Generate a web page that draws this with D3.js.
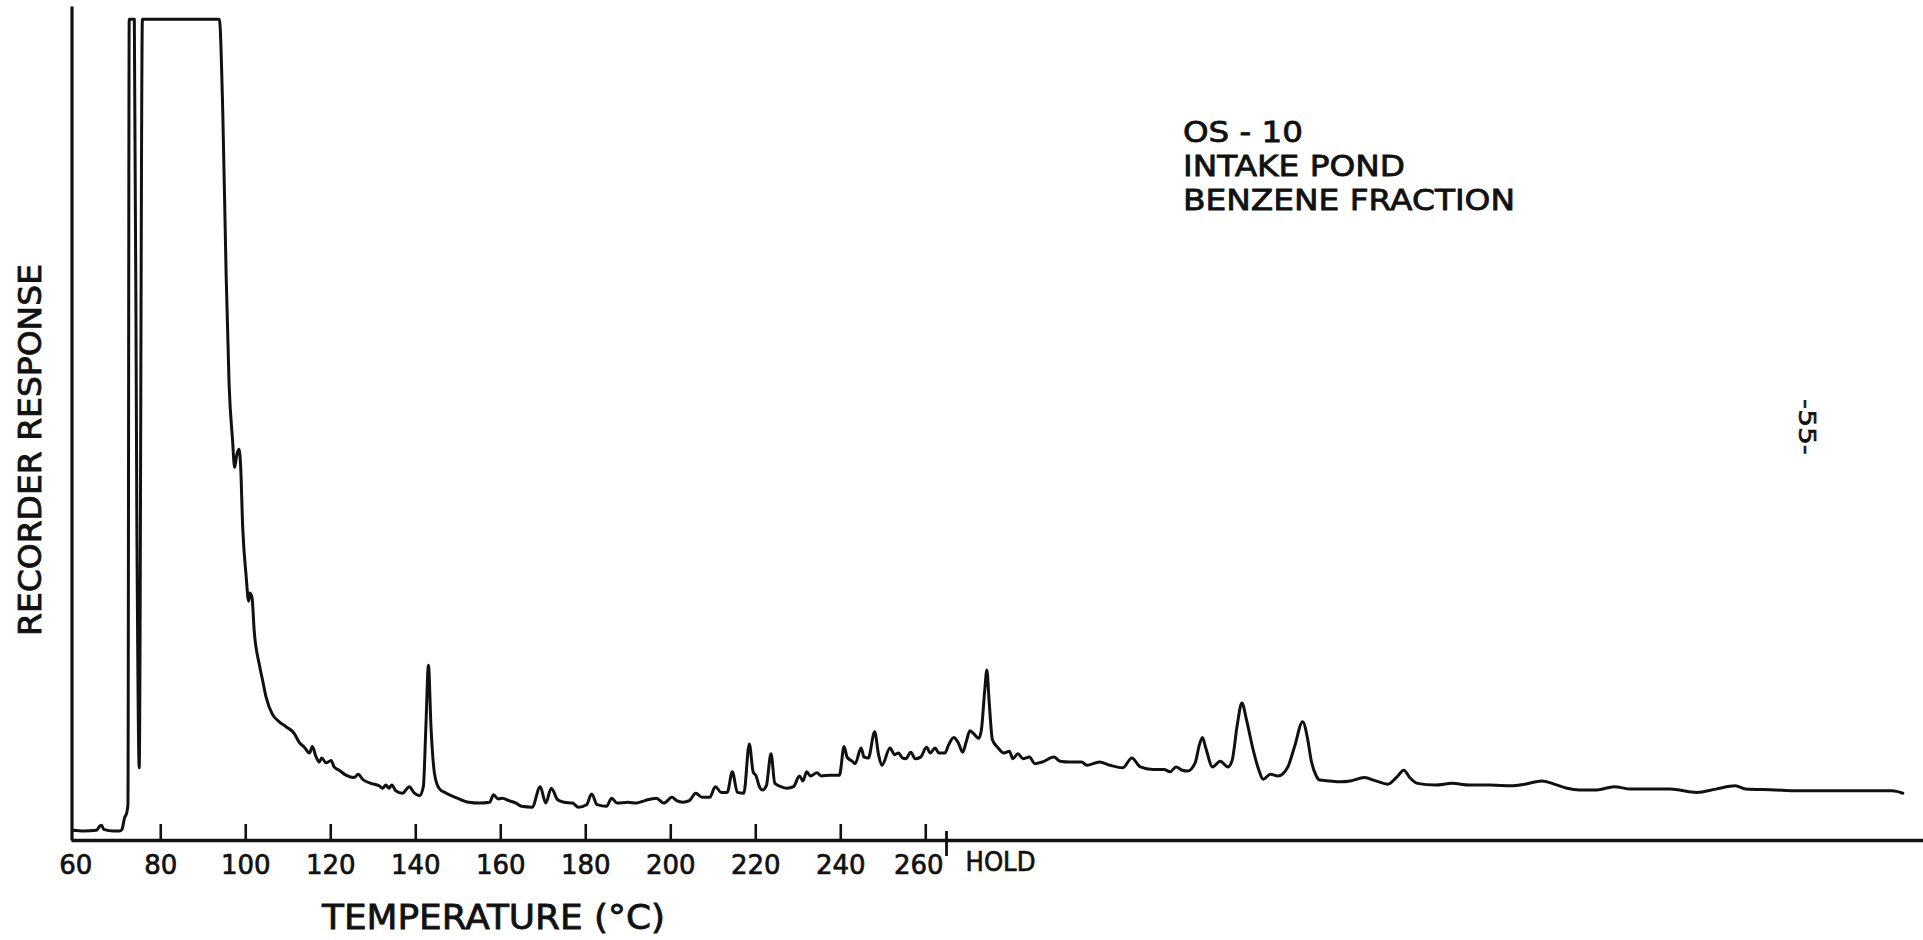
<!DOCTYPE html>
<html><head><meta charset="utf-8">
<script src="https://cdn.jsdelivr.net/npm/d3@7"></script>
<style>
html,body{margin:0;padding:0;background:#fff;}
svg{display:block;background:#fff;}
text{font-family:"DejaVu Sans",sans-serif;fill:#111;}
</style>
</head><body>
<svg id="chart" width="1923" height="940"></svg>
<script>
// Retention position expressed in column temperature (°C); beyond 265 °C the
// oven holds, values continue on the same chart-paper scale.
const temperature = [
  59.4, 62, 65, 65.8, 66.2, 66.7, 69, 70.4, 71.0, 71.6, 72.1, 72.4,
  72.7, 73.9, 74.5, 75.05, 75.8, 93.9, 94.7, 95.5, 96.2, 97.0, 97.5, 98.0,
  98.5, 98.9, 99.4, 100.2, 100.8, 101.1, 101.6, 102.1, 103.3, 104.1, 104.9, 106.4,
  108.0, 109.6, 111.5, 112.7, 113.9, 115.1, 115.8, 116.6, 117.4, 118.0, 119.0, 120.2,
  120.9, 122.1, 123.7, 125.6, 126.6, 127.6, 129.6, 131.5, 132.3, 133.1, 133.8, 134.5,
  135.4, 137.0, 138.6, 139.8, 141.0, 141.9, 142.5, 143.1, 143.7, 144.5, 145.6, 147.3,
  149.9, 152.6, 155, 157.5, 158.4, 159.5, 160.5, 162, 163.7, 165, 167.5, 169.4,
  170.7, 172.0, 173.5, 175, 177, 178.4, 180.3, 181.5, 182.8, 185, 186.2, 187.5,
  190, 192, 194, 196.7, 198.5, 200.4, 201.5, 203, 204.5, 206, 207.5, 209.3,
  210.6, 212, 213.4, 214.6, 215.8, 217.3, 218.6, 219.5, 220.2, 220.9, 221.7, 222.6,
  223.7, 224.6, 226, 227.5, 229, 230.4, 231.2, 232.1, 233, 234.5, 235.5, 237.6,
  239.8, 240.9, 241.6, 242.8, 243.5, 244.9, 245.6, 246.6, 248.1, 249.0, 249.8, 251.7,
  252.8, 253.7, 254.6, 255.4, 256.6, 257.6, 258.9, 260.3, 261.2, 262.3, 263.2, 264.6,
  265.5, 266.7, 267.8, 268.8, 269.6, 270.5, 271.3, 272.6, 273.2, 274.0, 274.5, 275.0,
  275.8, 277, 278.5, 279.8, 280.6, 281.8, 283, 284.5, 285.8, 287.5, 290.3, 291.7,
  294, 296.8, 298, 301, 303.5, 306.5, 308.6, 310.6, 313.5, 316.2, 317.6, 319,
  320.5, 321.7, 323.5, 324.5, 325.2, 326.0, 327.6, 329.4, 331.2, 332.2, 333.4, 334.5,
  335.6, 337.0, 338.5, 339.5, 341.2, 343, 345.3, 346.9, 348.8, 350.0, 350.8, 352.0,
  352.8, 355, 357.7, 360, 363.3, 366, 368.8, 371, 372.6, 374, 375.8, 380,
  384, 388, 393, 397.9, 401, 405.1, 408, 411, 413.9, 418, 422.1, 426,
  435.3, 441.5, 446, 450.6, 453, 460, 464.4, 475, 485.2, 487.5, 490
];
// Recorder response, percent of full scale (pen limit = 100).
const response = [
  1.2, 1.1, 1.2, 1.7, 1.8, 1.3, 1.1, 1.1, 1.3, 2.7, 3.3, 4.3,
  100, 100, 38.1, 8.8, 100, 100, 88.9, 68.9, 55.5, 48.8, 45.4, 46.9,
  47.6, 45.7, 38.1, 32.2, 29.1, 30.1, 29.5, 25.5, 21.4, 19.4, 17.4, 15.3,
  14.4, 13.8, 13.0, 11.9, 11.3, 10.6, 11.4, 10.2, 9.5, 10.0, 9.4, 9.7,
  8.9, 8.5, 7.9, 7.6, 8.0, 7.4, 6.9, 6.6, 6.3, 6.7, 6.3, 6.7,
  6.0, 5.7, 6.5, 5.7, 5.4, 6.5, 13.8, 21.3, 13.8, 8.2, 6.3, 5.7,
  5.1, 4.6, 4.5, 4.6, 5.5, 5.0, 5.1, 4.8, 4.5, 4.1, 4.0, 6.5,
  4.5, 6.3, 4.9, 4.6, 4.5, 4.0, 4.3, 5.6, 4.3, 4.1, 5.1, 4.5,
  4.6, 4.5, 4.8, 5.1, 4.5, 5.2, 4.8, 4.6, 4.8, 5.7, 5.2, 5.2,
  6.5, 5.8, 5.8, 8.3, 5.8, 5.7, 11.7, 8.3, 7.8, 6.6, 6.1, 6.6,
  10.5, 6.9, 6.5, 6.3, 6.5, 7.8, 7.2, 8.3, 7.8, 8.2, 7.8, 7.9,
  7.9, 11.4, 10.1, 9.6, 9.3, 11.2, 10.1, 10.0, 13.2, 10.4, 9.1, 11.2,
  10.4, 10.6, 10.0, 9.9, 10.7, 9.9, 10.1, 11.3, 10.6, 11.2, 10.6, 10.6,
  11.6, 12.5, 11.8, 10.7, 11.9, 13.3, 13.0, 12.4, 13.4, 18.3, 20.7, 17.1,
  12.2, 11.3, 10.6, 10.8, 9.9, 10.5, 9.9, 10.1, 9.3, 9.5, 10.1, 9.6,
  9.5, 9.5, 9.1, 9.5, 9.1, 8.8, 10.0, 8.9, 8.6, 8.6, 8.3, 8.9,
  8.5, 8.4, 9.4, 11.6, 12.5, 11.2, 8.9, 9.6, 8.9, 9.7, 14.0, 16.7,
  14.6, 11.3, 8.5, 7.4, 8.0, 7.8, 8.9, 11.4, 14.4, 12.2, 9.7, 7.8,
  7.3, 7.2, 7.1, 7.2, 7.6, 7.2, 6.8, 7.7, 8.5, 7.6, 6.9, 6.7,
  6.9, 6.7, 6.7, 6.6, 6.8, 7.2, 6.8, 6.3, 6.1, 6.1, 6.5, 6.2,
  6.2, 5.8, 6.2, 6.6, 6.2, 6.1, 6.0, 6.0, 6.0, 6.0, 5.7
];
const tickTemps = [60, 80, 100, 120, 140, 160, 180, 200, 220, 240, 260];
const holdTemp = 265;
const holdLabel = "HOLD";
const xTitle = "TEMPERATURE  (°C)";
const yTitle = "RECORDER  RESPONSE";
const sampleLines = ["OS - 10", "INTAKE POND", "BENZENE  FRACTION"];
const pageNumber = "-55-";

const ink = "#111";
const svg = d3.select("#chart");

const x = d3.scaleLinear().domain([59, 494.8]).range([71, 1923.2]);
const y = d3.scaleLinear().domain([0, 101.6]).range([840, 6]);

// helper: slightly heavier lettering, like a lettering-guide pen
const pen = (sel, w) => sel.attr("stroke", ink).attr("stroke-width", w).attr("paint-order", "stroke");

// X axis with inward ticks
const xAxis = d3.axisBottom(x)
  .tickValues(tickTemps)
  .tickSize(-16)
  .tickSizeOuter(0)
  .tickFormat(d3.format("d"));
const gx = svg.append("g").attr("transform", `translate(0,${y(0)})`).call(xAxis);
gx.attr("font-size", 26).attr("font-family", "DejaVu Sans, sans-serif");
gx.select(".domain").attr("stroke", ink).attr("stroke-width", 3.4);
gx.selectAll(".tick line").attr("stroke", ink).attr("stroke-width", 2.6);
gx.selectAll(".tick").filter(d => d === tickTemps[0]).select("line").remove();
gx.selectAll(".tick text")
  .attr("fill", ink)
  .attr("y", 34).attr("dy", 0)
  .attr("dx", d => d === 260 ? -7 : 0)
  .call(pen, 0.7);

// HOLD marker
svg.append("line")
  .attr("x1", x(holdTemp)).attr("x2", x(holdTemp))
  .attr("y1", y(0) - 9).attr("y2", y(0) + 16)
  .attr("stroke", ink).attr("stroke-width", 2.8);
svg.append("text")
  .attr("x", x(holdTemp) + 19).attr("y", y(0) + 31)
  .attr("font-size", 27)
  .attr("textLength", 70).attr("lengthAdjust", "spacingAndGlyphs")
  .call(pen, 0.7)
  .text(holdLabel);

// Y axis (no ticks)
const gy = svg.append("g").attr("transform", `translate(${x(59) + 0.5},0)`)
  .call(d3.axisLeft(y).tickValues([]).tickSizeOuter(0));
gy.select(".domain").attr("stroke", ink).attr("stroke-width", 3.2);

// Chromatogram trace
const line = d3.line()
  .x(d => x(d[0]))
  .y(d => y(d[1]))
  .curve(d3.curveMonotoneX);
svg.append("path")
  .datum(d3.zip(temperature, response))
  .attr("d", line)
  .attr("fill", "none")
  .attr("stroke", ink)
  .attr("stroke-width", 3)
  .attr("stroke-linejoin", "round")
  .attr("stroke-linecap", "round");

// Axis titles
svg.append("text")
  .attr("x", 493.5).attr("y", 929)
  .attr("text-anchor", "middle")
  .attr("font-size", 34)
  .attr("textLength", 343).attr("lengthAdjust", "spacingAndGlyphs")
  .call(pen, 0.8)
  .text(xTitle);
svg.append("text")
  .attr("transform", "translate(41,450) rotate(-90)")
  .attr("text-anchor", "middle")
  .attr("font-size", 32)
  .attr("textLength", 372).attr("lengthAdjust", "spacingAndGlyphs")
  .call(pen, 0.8)
  .text(yTitle);

// Sample annotation
const sampleWidths = [120, 222, 332];
svg.append("g").selectAll("text").data(sampleLines).join("text")
  .attr("x", 1183)
  .attr("y", (d, i) => 142 + i * 34)
  .attr("font-size", 29)
  .attr("textLength", (d, i) => sampleWidths[i])
  .attr("lengthAdjust", "spacingAndGlyphs")
  .call(pen, 0.8)
  .text(d => d);

// Page number
svg.append("text")
  .attr("transform", "translate(1799,427) rotate(90)")
  .attr("text-anchor", "middle")
  .attr("font-size", 23)
  .attr("textLength", 56).attr("lengthAdjust", "spacingAndGlyphs")
  .call(pen, 0.6)
  .text(pageNumber);
</script>
</body></html>
